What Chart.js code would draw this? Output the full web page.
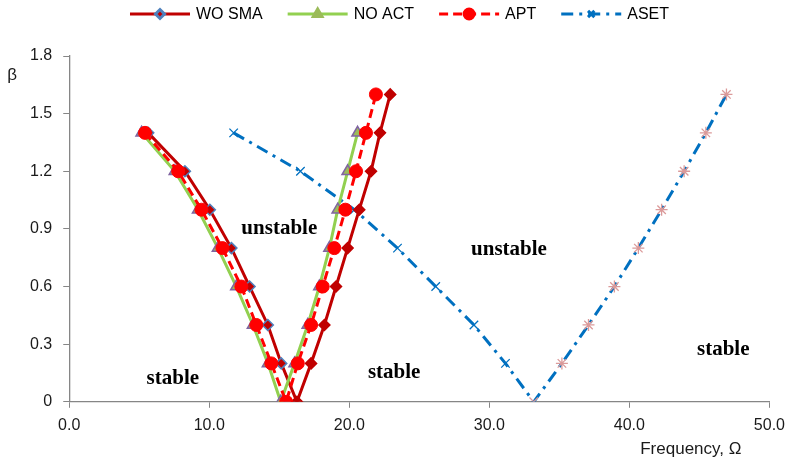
<!DOCTYPE html>
<html lang="en">
<head>
<meta charset="UTF-8">
<title>Stability boundaries</title>
<script src="https://cdn.jsdelivr.net/npm/chart.js"></script>
<style>
  html, body { margin: 0; padding: 0; background: #fff; }
</style>
</head>
<body>
<canvas id="chart" width="793" height="470"></canvas>
<script>
// frequency (x) and beta (y), left branch top -> bottom -> right branch
const woSmaFreq = [5.64, 8.26, 10.04, 11.58, 12.88, 14.18, 15.14, 16.26, 17.27, 18.22, 19.05, 19.88, 20.71, 21.55, 22.19, 22.92];
const woSmaBeta = [1.4, 1.2, 1.0, 0.8, 0.6, 0.4, 0.2, 0, 0.2, 0.4, 0.6, 0.8, 1.0, 1.2, 1.4, 1.6];

const noActFreq = [5.17, 7.54, 9.20, 10.62, 11.93, 13.12, 14.19, 15.10, 16.09, 17.03, 17.86, 18.58, 19.17, 19.88, 20.59];
const noActBeta = [1.4, 1.2, 1.0, 0.8, 0.6, 0.4, 0.2, 0, 0.2, 0.4, 0.6, 0.8, 1.0, 1.2, 1.4];

const aptFreq = [5.41, 7.78, 9.44, 10.94, 12.29, 13.36, 14.43, 15.49, 16.32, 17.27, 18.10, 18.93, 19.72, 20.48, 21.19, 21.90];
const aptBeta = [1.4, 1.2, 1.0, 0.8, 0.6, 0.4, 0.2, 0, 0.2, 0.4, 0.6, 0.8, 1.0, 1.2, 1.4, 1.6];

const asetFreq = [11.74, 16.51, 20.36, 23.44, 26.17, 28.90, 31.15, 33.17, 35.18, 37.08, 38.93, 40.64, 42.30, 43.91, 45.46, 46.93];
const asetBeta = [1.4, 1.2, 1.0, 0.8, 0.6, 0.4, 0.2, 0, 0.2, 0.4, 0.6, 0.8, 1.0, 1.2, 1.4, 1.6];

const xTicks = [0, 10, 20, 30, 40, 50];
const yTicks = [0, 0.3, 0.6, 0.9, 1.2, 1.5, 1.8];

// region labels anchored in data space
const regionText = ['unstable', 'unstable', 'stable', 'stable', 'stable'];
const regionFreq = [15.0, 31.4, 7.4, 23.2, 46.7];
const regionBeta = [0.90, 0.79, 0.12, 0.15, 0.27];

const toPoints = (xs, ys) => xs.map((x, i) => ({ x: x, y: ys[i] }));
const axisGrey = '#868686';
const sansFont = '"Liberation Sans", Arial, sans-serif';

// legend: short line sample with marker in the middle, like the spreadsheet legend
const lineLegend = {
    id: 'lineLegend',
    afterDraw(chart) {
        const ctx = chart.ctx;
        const sets = chart.data.datasets;
        const lineW = 60, textGap = 6, itemGap = 25, y = 14;
        ctx.save();
        ctx.font = '16px ' + sansFont;
        const widths = sets.map(d => lineW + textGap + ctx.measureText(d.label).width);
        const total = widths.reduce((a, b) => a + b, 0) + itemGap * (sets.length - 1);
        let x = (chart.width - total) / 2 + 3;
        sets.forEach((d, i) => {
            ctx.strokeStyle = d.borderColor;
            ctx.lineWidth = d.borderWidth;
            ctx.setLineDash(d.borderDash || []);
            ctx.beginPath();
            ctx.moveTo(x, y);
            ctx.lineTo(x + lineW, y);
            ctx.stroke();
            ctx.setLineDash([]);
            ctx.fillStyle = d.legendFill;
            ctx.strokeStyle = d.legendBorder;
            Chart.helpers.drawPoint(ctx, {
                pointStyle: d.legendStyle,
                radius: d.legendRadius,
                rotation: 0,
                borderWidth: 1.5
            }, x + lineW / 2, y);
            ctx.fillStyle = '#000';
            ctx.textAlign = 'left';
            ctx.textBaseline = 'middle';
            ctx.fillText(d.label, x + lineW + textGap, y + 1);
            x += widths[i] + itemGap;
        });
        ctx.restore();
    }
};

const chartTexts = {
    id: 'chartTexts',
    afterDraw(chart) {
        const ctx = chart.ctx;
        const xs = chart.scales.x, ys = chart.scales.y;
        const area = chart.chartArea;
        ctx.save();
        ctx.fillStyle = '#000';
        ctx.textAlign = 'center';
        ctx.textBaseline = 'middle';
        ctx.font = 'bold 21px "Liberation Serif", "Times New Roman", serif';
        regionText.forEach((t, i) => {
            ctx.fillText(t, xs.getPixelForValue(regionFreq[i]), ys.getPixelForValue(regionBeta[i]));
        });
        // axis titles
        ctx.font = '17px ' + sansFont;
        ctx.fillStyle = '#1a1a1a';
        ctx.fillText('\u03b2', area.left - 57, area.top + 19);
        ctx.textAlign = 'right';
        ctx.textBaseline = 'alphabetic';
        ctx.fillText('Frequency, \u03a9', area.right - 28, 454);
        ctx.restore();
    }
};

new Chart(document.getElementById('chart'), {
    type: 'scatter',
    data: {
        datasets: [
            {
                label: 'WO SMA',
                data: toPoints(woSmaFreq, woSmaBeta),
                showLine: true,
                borderColor: '#C00000',
                borderWidth: 3,
                pointStyle: 'rectRot',
                pointRadius: 5.5,
                pointBackgroundColor: '#C00000',
                pointBorderColor: c => c.dataIndex < 7 ? '#4F81BD' : '#C00000',
                pointBorderWidth: 1.5,
                legendStyle: 'rectRot', legendRadius: 4.5, legendFill: '#C00000', legendBorder: '#4F81BD',
                order: 3
            },
            {
                label: 'NO ACT',
                data: toPoints(noActFreq, noActBeta),
                showLine: true,
                borderColor: '#92D050',
                borderWidth: 3,
                pointStyle: 'triangle',
                pointRadius: 6.5,
                pointBackgroundColor: '#9BBB59',
                pointBorderColor: '#8064A2',
                pointBorderWidth: 1.5,
                legendStyle: 'triangle', legendRadius: 5, legendFill: '#9BBB59', legendBorder: '#9BBB59',
                order: 2
            },
            {
                label: 'APT',
                data: toPoints(aptFreq, aptBeta),
                showLine: true,
                borderColor: '#FF0000',
                borderWidth: 3,
                borderDash: [9, 5],
                pointStyle: 'circle',
                pointRadius: 6.5,
                pointBackgroundColor: '#FF0000',
                pointBorderColor: '#FF0000',
                pointBorderWidth: 1,
                legendStyle: 'circle', legendRadius: 5, legendFill: '#FF0000', legendBorder: '#FF0000',
                order: 1
            },
            {
                label: 'ASET',
                data: toPoints(asetFreq, asetBeta),
                showLine: true,
                borderColor: '#0070C0',
                borderWidth: 3,
                borderDash: [12, 6, 3, 6],
                pointStyle: c => c.dataIndex <= 7 ? 'crossRot' : 'star',
                pointRadius: 6,
                pointBackgroundColor: 'rgba(0,0,0,0)',
                pointBorderColor: c => c.dataIndex < 7 ? '#0070C0' : '#DB9A9A',
                pointBorderWidth: 1.3,
                legendStyle: 'crossRot', legendRadius: 4.5, legendFill: '#0070C0', legendBorder: '#0070C0',
                order: 4
            }
        ]
    },
    options: {
        responsive: false,
        animation: false,
        layout: { padding: { left: 19, right: 18, top: 56, bottom: 27 } },
        plugins: {
            legend: { display: false },
            tooltip: { enabled: false }
        },
        scales: {
            x: {
                type: 'linear',
                min: 0,
                max: 50,
                afterBuildTicks: s => { s.ticks = xTicks.map(v => ({ value: v })); },
                ticks: {
                    color: '#1a1a1a',
                    font: { family: sansFont, size: 16 },
                    padding: 8,
                    callback: v => Number(v).toFixed(1)
                },
                grid: { drawOnChartArea: false, drawTicks: true, tickLength: 6, color: axisGrey },
                border: { color: axisGrey, width: 1.3 }
            },
            y: {
                type: 'linear',
                min: 0,
                max: 1.8,
                afterBuildTicks: s => { s.ticks = yTicks.map(v => ({ value: v })); },
                ticks: {
                    color: '#1a1a1a',
                    font: { family: sansFont, size: 16 },
                    padding: 11,
                    callback: v => v === 0 ? '0' : Number(v).toFixed(1)
                },
                grid: { drawOnChartArea: false, drawTicks: true, tickLength: 6, color: axisGrey },
                border: { color: axisGrey, width: 1.3 }
            }
        }
    },
    plugins: [lineLegend, chartTexts]
});
</script>
</body>
</html>
